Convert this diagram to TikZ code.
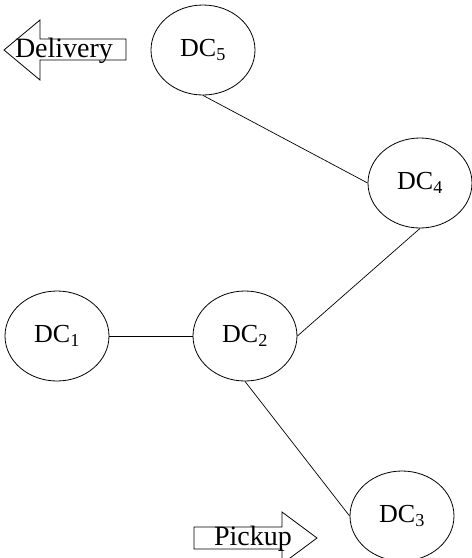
\documentclass[tikz,border=0pt]{standalone}
\usepackage{fontspec}
\setmainfont{Liberation Serif}
\usetikzlibrary{shapes.geometric}
\tikzset{dc/.style={draw, ellipse, line width=0.8pt, inner sep=0pt,
            minimum width=104pt, minimum height=90pt, font=\fontsize{26}{30}\selectfont},
         link/.style={line width=0.7pt},
         flow/.style={draw, line width=0.8pt},
         flowtext/.style={anchor=base, inner sep=0pt, font=\fontsize{28}{32}\selectfont}}

\begin{document}
\begin{tikzpicture}[x=1pt,y=-1pt]
\useasboundingbox (0,0) rectangle (472,558);
% distribution centres
\node [dc] (dc5) at (203,50) {DC\textsubscript{5}};
\node [dc] (dc4) at (420,183) {DC\textsubscript{4}};
\node [dc] (dc1) at (57,336) {DC\textsubscript{1}};
\node [dc] (dc2) at (245,336) {DC\textsubscript{2}};
\node [dc] (dc3) at (402,516) {DC\textsubscript{3}};
%
\draw [link] (dc5.south) -- (dc4.west);
\draw [link] (dc4.south) -- (dc2.east);
\draw [link] (dc1.east) -- (dc2.west);
\draw [link] (dc2.south) -- (dc3.west);
%
% delivery arrow, pointing left
\draw [flow] (4,50) -- (40,20) -- (40,39) -- (126,39) -- (126,60)
    -- (40,60) -- (40,80) -- cycle;
\node [flowtext] (delivery) at (64,57) {Delivery};
% pickup arrow, pointing right
\draw [flow] (317,538) -- (282,512) -- (282,527) -- (194,527) -- (194,549)
    -- (282,549) -- (282,564) -- cycle;
\node [flowtext] (pickup) at (253,545) {Pickup};
\end{tikzpicture}
\end{document}
